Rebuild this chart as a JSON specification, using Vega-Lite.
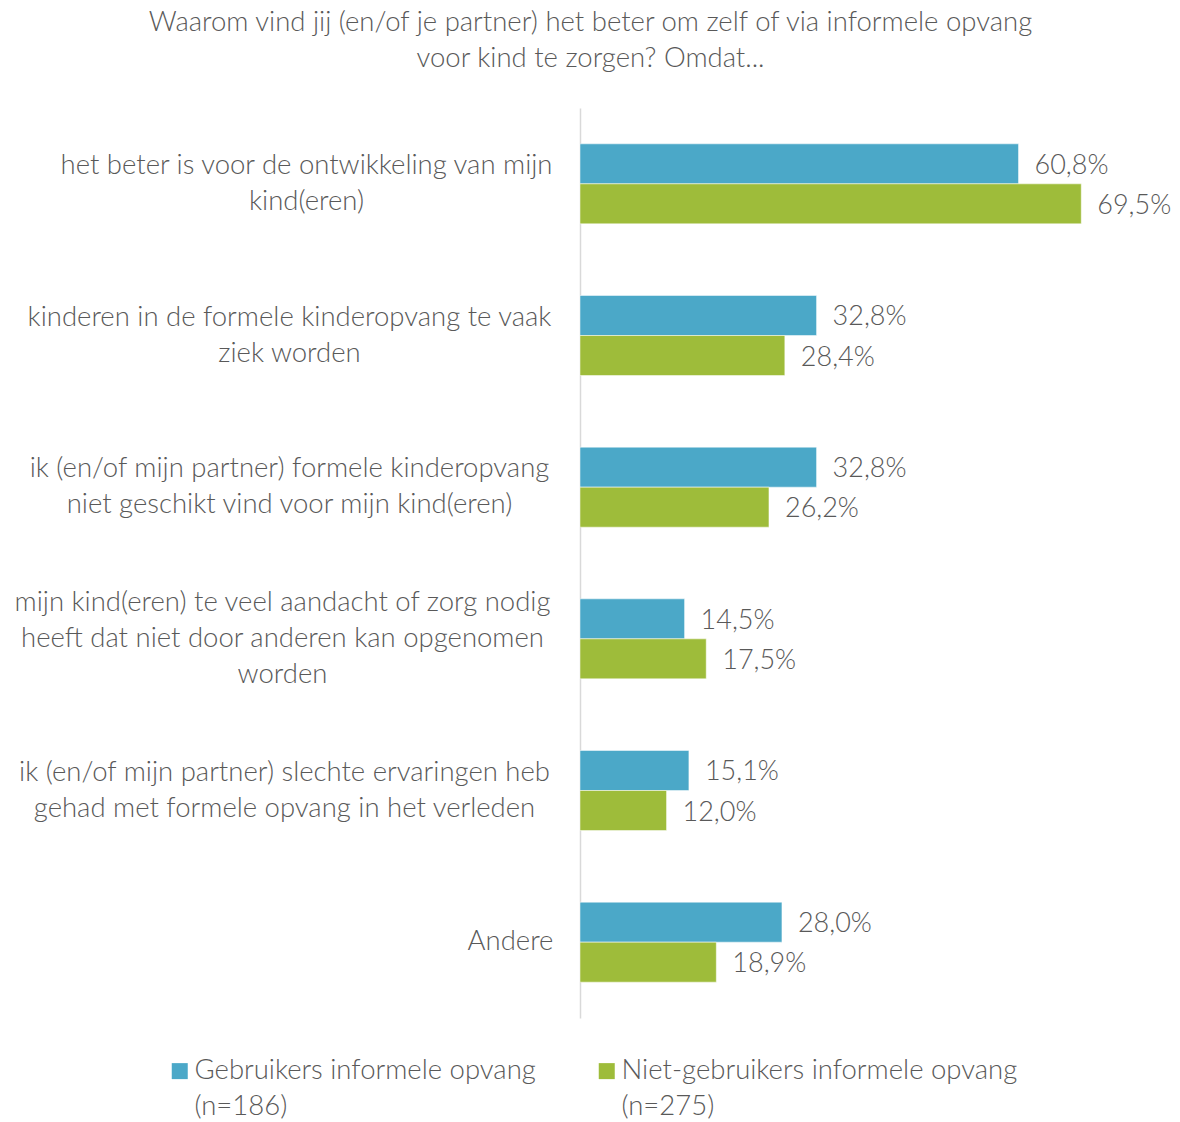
{
  "$schema": "https://vega.github.io/schema/vega-lite/v6.json",
  "autosize": {"type": "none"},
  "width": 577,
  "height": 910,
  "padding": {"left": 580, "top": 108, "right": 23, "bottom": 104},
  "background": "white",
  "title": {
    "text": ["Waarom vind jij (en/of je partner) het beter om zelf of via informele opvang", "voor kind te zorgen? Omdat..."],
    "anchor": "middle",
    "frame": "group",
    "dx": -278,
    "offset": 36,
    "font": "Lato",
    "fontSize": 27.5,
    "fontWeight": 300,
    "lineHeight": 36,
    "color": "#595959"
  },
  "data": {
    "values": [
      {"reason": "het beter is voor de ontwikkeling van mijn|kind(eren)", "group": "Gebruikers informele opvang|(n=186)", "value": 0.608},
      {"reason": "het beter is voor de ontwikkeling van mijn|kind(eren)", "group": "Niet-gebruikers informele opvang|(n=275)", "value": 0.695},
      {"reason": "kinderen in de formele kinderopvang te vaak|ziek worden", "group": "Gebruikers informele opvang|(n=186)", "value": 0.328},
      {"reason": "kinderen in de formele kinderopvang te vaak|ziek worden", "group": "Niet-gebruikers informele opvang|(n=275)", "value": 0.284},
      {"reason": "ik (en/of mijn partner) formele kinderopvang|niet geschikt vind voor mijn kind(eren)", "group": "Gebruikers informele opvang|(n=186)", "value": 0.328},
      {"reason": "ik (en/of mijn partner) formele kinderopvang|niet geschikt vind voor mijn kind(eren)", "group": "Niet-gebruikers informele opvang|(n=275)", "value": 0.262},
      {"reason": "mijn kind(eren) te veel aandacht of zorg nodig|heeft dat niet door anderen kan opgenomen|worden", "group": "Gebruikers informele opvang|(n=186)", "value": 0.145},
      {"reason": "mijn kind(eren) te veel aandacht of zorg nodig|heeft dat niet door anderen kan opgenomen|worden", "group": "Niet-gebruikers informele opvang|(n=275)", "value": 0.175},
      {"reason": "ik (en/of mijn partner) slechte ervaringen heb|gehad met formele opvang in het verleden", "group": "Gebruikers informele opvang|(n=186)", "value": 0.151},
      {"reason": "ik (en/of mijn partner) slechte ervaringen heb|gehad met formele opvang in het verleden", "group": "Niet-gebruikers informele opvang|(n=275)", "value": 0.120},
      {"reason": "Andere", "group": "Gebruikers informele opvang|(n=186)", "value": 0.280},
      {"reason": "Andere", "group": "Niet-gebruikers informele opvang|(n=275)", "value": 0.189}
    ]
  },
  "encoding": {
    "y": {
      "field": "reason",
      "type": "nominal",
      "sort": null,
      "scale": {"paddingInner": 0.4725, "paddingOuter": 0.23625},
      "axis": {
        "title": null,
        "ticks": false,
        "tickSize": 0,
        "domain": true,
        "domainColor": "#d9d9d9",
        "domainWidth": 1.5,
        "labelExpr": "split(datum.label, '|')",
        "labelAlign": "center",
        "labelBaseline": "middle",
        "labelOffset": {"expr": "-(length(split(datum.value, '|')) - 1) * 18"},
        "labelPadding": {"expr": "indexof(datum.value, 'ontwikkeling') >= 0 ? 274 : indexof(datum.value, 'ziek') >= 0 ? 291 : indexof(datum.value, 'geschikt') >= 0 ? 291 : indexof(datum.value, 'aandacht') >= 0 ? 298 : indexof(datum.value, 'ervaringen') >= 0 ? 296 : 70"},
        "labelFont": "Lato",
        "labelFontSize": 27.5,
        "labelFontWeight": 300,
        "labelLineHeight": 36,
        "labelColor": "#595959",
        "labelLimit": 700
      }
    },
    "yOffset": {"field": "group", "type": "nominal", "sort": null, "scale": {"paddingInner": 0, "paddingOuter": 0}},
    "x": {
      "field": "value",
      "type": "quantitative",
      "scale": {"domain": [0, 0.8], "nice": false},
      "axis": null
    }
  },
  "layer": [
    {
      "mark": {"type": "bar", "stroke": "white", "strokeWidth": 0.5},
      "encoding": {
        "color": {
          "field": "group",
          "type": "nominal",
          "sort": null,
          "scale": {"range": ["#4BA8C8", "#9EBC3A"]},
          "legend": {
            "orient": "none",
            "legendX": -414,
            "legendY": 949,
            "padding": 0,
            "direction": "horizontal",
            "title": null,
            "labelExpr": "split(datum.label, '|')",
            "labelFont": "Lato",
            "labelFontSize": 27.5,
            "labelFontWeight": 300,
            "labelColor": "#595959",
            "labelBaseline": "middle",
            "labelLimit": 700,
            "labelOffset": 1,
            "symbolType": "square",
            "symbolSize": 256,
            "symbolStrokeWidth": 0,
            "symbolOpacity": 1,
            "columnPadding": 57
          }
        }
      }
    },
    {
      "mark": {"type": "text", "align": "left", "baseline": "middle", "dx": 16, "dy": 2, "font": "Lato", "fontSize": 27, "fontWeight": 300, "color": "#595959"},
      "encoding": {
        "text": {"field": "value", "type": "quantitative", "format": ".1%"}
      }
    }
  ],
  "config": {
    "view": {"stroke": null},
    "style": {"guide-label": {"lineHeight": 36}},
    "locale": {"number": {"decimal": ",", "thousands": ".", "grouping": [3], "currency": ["€", ""]}}
  }
}
